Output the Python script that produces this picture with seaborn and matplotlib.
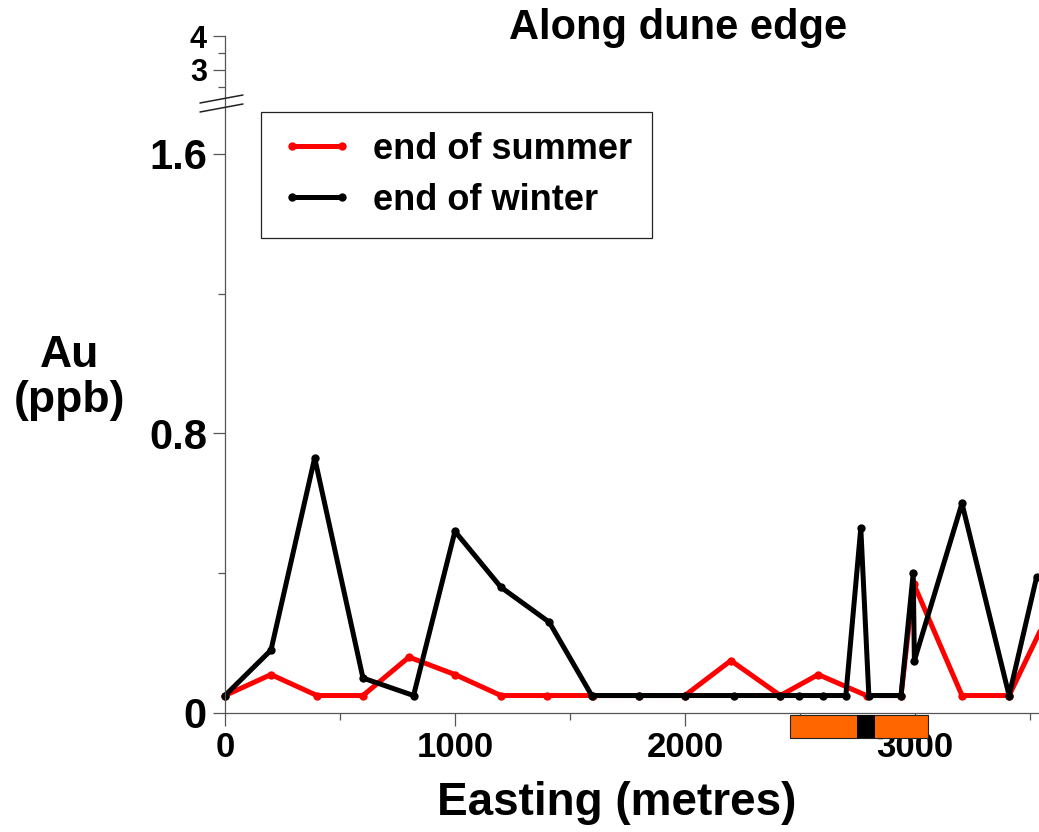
import numpy as np
import pandas as pd
import matplotlib
matplotlib.use("Agg")
import matplotlib.pyplot as plt
import matplotlib.transforms as mtransforms
from matplotlib.patches import Rectangle
from matplotlib.lines import Line2D
import seaborn as sns

# ---------------- data ----------------
summer_easting = [0, 200, 400, 600, 800, 1000, 1200, 1400, 1600, 1800, 2000,
                  2200, 2415, 2580, 2790, 2940, 2995, 3205, 3410, 3600]
summer_au = [0.05, 0.11, 0.05, 0.05, 0.16, 0.11, 0.05, 0.05, 0.05, 0.05, 0.05,
             0.15, 0.05, 0.11, 0.05, 0.05, 0.37, 0.05, 0.05, 0.31]

winter_easting = [0, 200, 390, 600, 820, 1000, 1200, 1410, 1595, 1800, 2000,
                  2215, 2415, 2495, 2600, 2700, 2765, 2800, 2940, 2993, 2998,
                  3205, 3410, 3530]
winter_au = [0.05, 0.18, 0.73, 0.10, 0.05, 0.52, 0.36, 0.26, 0.05, 0.05, 0.05,
             0.05, 0.05, 0.05, 0.05, 0.05, 0.53, 0.05, 0.05, 0.40, 0.15,
             0.60, 0.05, 0.39]

series_labels = ["end of summer", "end of winter"]
series_colors = ["#ff0000", "#000000"]

x_major_ticks = [0, 1000, 2000, 3000]
x_minor_ticks = [500, 1500, 2500, 3500]
y_major_ticks = [0, 0.8, 1.6, 3, 4]
y_major_labels = ["0", "0.8", "1.6", "3", "4"]
y_minor_ticks = [0.4, 1.2, 2.5, 3.5]

zone_start, zone_end = 2457, 3057      # orange bar under the axis
core_start, core_end = 2749, 2826      # black section inside the bar

# ---------------- style ----------------
sns.set_style("ticks")
plt.rcParams["font.family"] = ["Liberation Sans", "DejaVu Sans"]
plt.rcParams["font.weight"] = "bold"
for key in ["text.color", "axes.labelcolor", "xtick.labelcolor", "ytick.labelcolor"]:
    plt.rcParams[key] = "black"

W, H = 1039, 832
fig = plt.figure(figsize=(W / 100, H / 100), dpi=100)

# axes placement in pixels
left_px, right_px = 225, 1039
bottom_px, top_px = 713, 36
ax = fig.add_axes([left_px / W, 1 - bottom_px / H,
                   (right_px - left_px) / W, (bottom_px - top_px) / H])

# broken (piecewise) y scale: linear up to the break, compressed above
k = 0.0973
t3 = 1.8403
yb = (t3 - 3 * k) / (1 - k)


def fwd(y):
    y = np.asarray(y, dtype=float)
    return np.where(y <= yb, y, t3 + k * (y - 3))


def inv(t):
    t = np.asarray(t, dtype=float)
    return np.where(t <= yb, t, 3 + (t - t3) / k)


ax.set_yscale("function", functions=(fwd, inv))

df_s = pd.DataFrame({"Easting": summer_easting, "Au": summer_au})
df_w = pd.DataFrame({"Easting": winter_easting, "Au": winter_au})

for df, col, lab in [(df_s, series_colors[0], series_labels[0]),
                     (df_w, series_colors[1], series_labels[1])]:
    sns.lineplot(data=df, x="Easting", y="Au", ax=ax, color=col, label=lab,
                 marker="o", markersize=6, markeredgewidth=0, linewidth=3.6,
                 estimator=None, sort=False, clip_on=False)

ax.set_xlim(0, 3540)
ax.set_ylim(0, 4)

ax.set_xticks(x_major_ticks)
ax.set_xticks(x_minor_ticks, minor=True)
ax.set_xticklabels([str(v) for v in x_major_ticks], fontsize=25, fontweight="bold")
ax.set_yticks(y_major_ticks)
ax.set_yticklabels(y_major_labels, fontsize=30, fontweight="bold")
ax.set_yticks(y_minor_ticks, minor=True)
ax.set_yticklabels([], minor=True)
# the compressed upper part has tightly packed labels
for lbl in ax.get_yticklabels():
    if lbl.get_text() in ("3", "4"):
        lbl.set_fontsize(22)

spine_col = "#555555"
for s in ["top", "right"]:
    ax.spines[s].set_visible(False)
for s in ["left", "bottom"]:
    ax.spines[s].set_color(spine_col)
    ax.spines[s].set_linewidth(0.9)
ax.tick_params(which="major", length=9, width=0.9, color=spine_col, pad=4,
               direction="out")
ax.tick_params(which="minor", length=5, width=0.9, color=spine_col,
               direction="out")
ax.set_xlabel("")
ax.set_ylabel("")

# axis break marks
for y0, y1 in [(112, 104), (103, 95)]:
    fig.add_artist(Line2D([200 / W, 243 / W], [1 - y0 / H, 1 - y1 / H],
                          color="#222222", lw=1.1))

# orange bar below axis with black core
trans = mtransforms.blended_transform_factory(ax.transData, ax.transAxes)
ax_h = bottom_px - top_px
yb0 = -(738 - bottom_px) / ax_h
hb = (738 - 715) / ax_h
ax.add_patch(Rectangle((zone_start, yb0), zone_end - zone_start, hb,
                       transform=trans, facecolor="#ff6600", edgecolor="#222222",
                       linewidth=0.8, clip_on=False, zorder=3))
ax.add_patch(Rectangle((core_start, yb0), core_end - core_start, hb,
                       transform=trans, facecolor="#000000", edgecolor="none",
                       clip_on=False, zorder=4))

# legend
leg = ax.legend(loc="upper left", bbox_to_anchor=(261 / W, 1 - 112 / H),
                bbox_transform=fig.transFigure, fontsize=26, frameon=True,
                fancybox=False, framealpha=1, edgecolor="#222222",
                numpoints=2, handlelength=2.0, handletextpad=0.55,
                labelspacing=0.45, borderpad=0.55, borderaxespad=0)
leg.get_frame().set_linewidth(0.9)
for txt in leg.get_texts():
    txt.set_fontweight("bold")
    txt.set_color("black")
for h in leg.legend_handles:
    h.set_linewidth(3.6)
    h.set_markersize(6)

# titles / labels
fig.text(678 / W, 1 - 28 / H, "Along dune edge", ha="center", va="center",
         fontsize=30, fontweight="bold")
fig.text(70 / W, 1 - 378 / H, "Au\n(ppb)", ha="center", va="center",
         fontsize=32, fontweight="bold", linespacing=1.15, multialignment="center")
fig.text(617 / W, 1 - 803 / H, "Easting (metres)", ha="center", va="center",
         fontsize=33, fontweight="bold")

fig.savefig("out.png", dpi=100)
